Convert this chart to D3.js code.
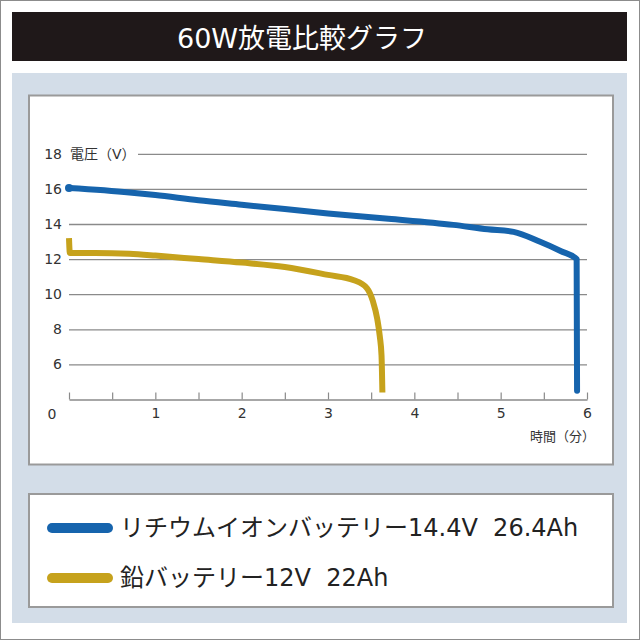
<!DOCTYPE html>
<html>
<head>
<meta charset="utf-8">
<script src="https://cdn.jsdelivr.net/npm/d3@7"></script>
<style>
  body { margin: 0; background: #fff; }
  svg { display: block; }
  text { font-family: "DejaVu Sans", "Noto Sans CJK JP", sans-serif; }
</style>
</head>
<body>
<svg id="chart" width="640" height="640"></svg>
<script>
// chart data
const title = '60W放電比較グラフ';
const seriesNames = ['リチウムイオンバッテリー14.4V  26.4Ah', '鉛バッテリー12V  22Ah'];
const seriesColors = ['#1664ad', '#c6a21c'];

// lithium-ion: time (min) / voltage (V)
const liTime = [0, 0.7, 1.0, 1.5, 2.0, 2.5, 3.0, 3.7, 4.45, 4.85, 5.15, 5.45, 5.7, 5.88, 5.885];
const liVolt = [16.05, 15.8, 15.65, 15.35, 15.1, 14.85, 14.6, 14.3, 13.95, 13.7, 13.55, 13.0, 12.45, 12.0, 4.5];

// lead: time (min) / voltage (V)
const pbTime = [0, 0.01, 0.3, 0.7, 1.0, 1.5, 2.0, 2.5, 3.0, 3.3, 3.45, 3.52, 3.57, 3.6, 3.62, 3.63];
const pbVolt = [13.2, 12.35, 12.35, 12.3, 12.2, 12.0, 11.8, 11.55, 11.1, 10.8, 10.35, 9.6, 8.6, 7.6, 6.5, 4.4];

const xTicks = [0, 0.5, 1, 1.5, 2, 2.5, 3, 3.5, 4, 4.5, 5, 5.5, 6];
const yTicks = [6, 8, 10, 12, 14, 16, 18];
const yTitle = '電圧（V）';
const xTitle = '時間（分）';
const originLabel = '0';

const svg = d3.select('#chart');

// outer frame
svg.append('rect')
  .attr('x', 0.5).attr('y', 0.5)
  .attr('width', 639).attr('height', 639)
  .attr('fill', '#fff')
  .attr('stroke', '#8c8c8c');

// title bar
svg.append('rect')
  .attr('x', 12).attr('y', 12)
  .attr('width', 615).attr('height', 49)
  .attr('fill', '#1f1819');

svg.append('text')
  .attr('x', 302).attr('y', 38)
  .attr('text-anchor', 'middle')
  .attr('dominant-baseline', 'central')
  .attr('fill', '#fff')
  .style('font-size', '27px')
  .text(title);

// light blue panel
svg.append('rect')
  .attr('x', 12).attr('y', 73)
  .attr('width', 615).attr('height', 550)
  .attr('fill', '#d3dde8');

// chart box + legend box
svg.append('rect')
  .attr('x', 29).attr('y', 95.5)
  .attr('width', 584).attr('height', 369)
  .attr('fill', '#fff')
  .attr('stroke', '#9a9a9a')
  .attr('stroke-width', 2);

svg.append('rect')
  .attr('x', 29).attr('y', 494)
  .attr('width', 584).attr('height', 113)
  .attr('fill', '#fff')
  .attr('stroke', '#9a9a9a')
  .attr('stroke-width', 2);

// scales
const x = d3.scaleLinear().domain([0, 6]).range([69, 587]);
const y = d3.scaleLinear().domain([4, 18]).range([399.5, 153.8]);

// y grid + labels
const yAxis = d3.axisLeft(y)
  .tickValues(yTicks)
  .tickSize(-(x.range()[1] - x.range()[0]))
  .tickPadding(7)
  .tickFormat(d3.format('d'));

const gy = svg.append('g')
  .attr('transform', `translate(${x(0)},0)`)
  .call(yAxis);

gy.select('.domain').remove();
gy.selectAll('.tick line')
  .attr('stroke', '#8a8a8a')
  .attr('stroke-width', 1.3)
  .attr('x1', d => d === 18 ? 69 : 0);
gy.selectAll('.tick text')
  .attr('fill', '#333')
  .style('font-size', '14px');

svg.append('text')
  .attr('x', 70).attr('y', y(18))
  .attr('dominant-baseline', 'central')
  .attr('fill', '#333')
  .style('font-size', '14px')
  .text(yTitle);

// x axis, ticks pointing up
const xAxis = d3.axisBottom(x)
  .tickValues(xTicks)
  .tickSizeInner(-7)
  .tickSizeOuter(0)
  .tickPadding(9)
  .tickFormat(d => (d > 0 && d % 1 === 0) ? d : '');

const gx = svg.append('g')
  .attr('transform', `translate(0,${y(4)})`)
  .call(xAxis);

gx.select('.domain').attr('stroke', '#8a8a8a').attr('stroke-width', 1.5);
gx.selectAll('.tick line').attr('stroke', '#8a8a8a').attr('stroke-width', 1.2);
gx.selectAll('.tick text')
  .attr('fill', '#333')
  .style('font-size', '14px');

svg.append('text')
  .attr('x', x(0) - 17).attr('y', y(4) + 14)
  .attr('text-anchor', 'middle')
  .attr('dominant-baseline', 'central')
  .attr('fill', '#333')
  .style('font-size', '14px')
  .text(originLabel);

svg.append('text')
  .attr('x', 595).attr('y', 436)
  .attr('text-anchor', 'end')
  .attr('dominant-baseline', 'central')
  .attr('fill', '#333')
  .style('font-size', '13px')
  .text(xTitle);

// lines
const line = d3.line()
  .x(d => x(d[0]))
  .y(d => y(d[1]))
  .curve(d3.curveMonotoneX);

const series = [
  d3.zip(liTime, liVolt),
  d3.zip(pbTime, pbVolt)
];

svg.selectAll('.series')
  .data(series)
  .enter()
  .append('path')
  .attr('class', 'series')
  .attr('d', line)
  .attr('fill', 'none')
  .attr('stroke', (d, i) => seriesColors[i])
  .attr('stroke-width', 6)
  .attr('stroke-linejoin', 'round')
  .attr('stroke-linecap', (d, i) => i === 0 ? 'round' : 'butt');

// start dot on the lithium line
svg.append('circle')
  .attr('cx', x(liTime[0]))
  .attr('cy', y(liVolt[0]))
  .attr('r', 4)
  .attr('fill', seriesColors[0]);

// legend
const legend = svg.selectAll('.legend')
  .data(seriesNames)
  .enter()
  .append('g')
  .attr('class', 'legend')
  .attr('transform', (d, i) => `translate(0,${528 + i * 50})`);

legend.append('line')
  .attr('x1', 52).attr('x2', 108)
  .attr('stroke', (d, i) => seriesColors[i])
  .attr('stroke-width', 10)
  .attr('stroke-linecap', 'round');

legend.append('text')
  .attr('x', 120)
  .attr('dominant-baseline', 'central')
  .attr('fill', '#222')
  .style('font-size', '24px')
  .style('white-space', 'pre')
  .text(d => d);
</script>
</body>
</html>
